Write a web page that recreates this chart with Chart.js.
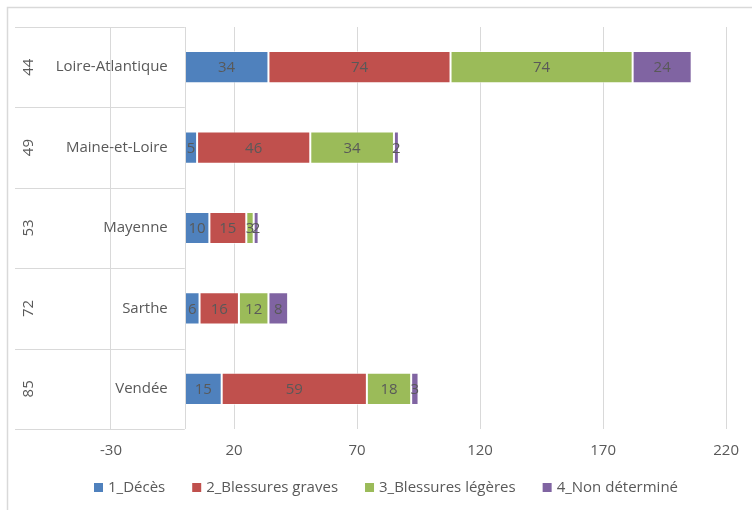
<!DOCTYPE html>
<html>
<head>
<meta charset="utf-8">
<script src="https://cdn.jsdelivr.net/npm/chart.js@4/dist/chart.umd.min.js"></script>
<style>
  html, body { margin: 0; padding: 0; background: #fff; }
  #wrap { width: 752px; height: 510px; position: relative; }
</style>
</head>
<body>
<div id="wrap"><canvas id="graphique" width="752" height="510"></canvas></div>
<script>
// données
const codes = ['44', '49', '53', '72', '85'];
const departements = ['Loire-Atlantique', 'Maine-et-Loire', 'Mayenne', 'Sarthe', 'Vendée'];
const seriesNames = ['1_Décès', '2_Blessures graves', '3_Blessures légères', '4_Non déterminé'];
const deces = [34, 5, 10, 6, 15];
const blessuresGraves = [74, 46, 15, 16, 59];
const blessuresLegeres = [74, 34, 3, 12, 18];
const nonDetermine = [24, 2, 2, 8, 3];
const tickValues = [-30, 20, 70, 120, 170, 220];

const couleurs = ['#4F81BD', '#C0504D', '#9BBB59', '#8064A2'];
const gris = '#595959';
const grille = '#D9D9D9';
const police = '"Open Sans", sans-serif';
const taille = 15;

const valeurs = [deces, blessuresGraves, blessuresLegeres, nonDetermine];

// cadre, étiquettes de catégories à deux niveaux, valeurs et légende
const categoriesPlugin = {
    id: 'categories',
    beforeDraw(chart) {
        const ctx = chart.ctx;
        ctx.save();
        ctx.strokeStyle = grille;
        ctx.lineWidth = 1.5;
        ctx.strokeRect(7.5, 7.5, 800, 520);
        ctx.restore();
    },
    afterDraw(chart) {
        const ctx = chart.ctx;
        const area = chart.chartArea;
        const x0 = chart.scales.x.getPixelForValue(0);
        const yScale = chart.scales.y;
        const pas = (area.bottom - area.top) / codes.length;
        ctx.save();
        ctx.strokeStyle = grille;
        ctx.lineWidth = 1;
        for (let i = 0; i <= codes.length; i++) {
            const y = Math.round(area.top + i * pas) + 0.5;
            ctx.beginPath();
            ctx.moveTo(area.left, y);
            ctx.lineTo(x0, y);
            ctx.stroke();
        }
        ctx.beginPath();
        ctx.moveTo(Math.round(x0) + 0.5, area.top);
        ctx.lineTo(Math.round(x0) + 0.5, area.bottom);
        ctx.stroke();

        ctx.fillStyle = gris;
        ctx.font = taille + 'px ' + police;
        ctx.textBaseline = 'middle';
        codes.forEach((c, i) => {
            const y = yScale.getPixelForValue(i);
            ctx.save();
            ctx.translate(29, y);
            ctx.rotate(-Math.PI / 2);
            ctx.textAlign = 'center';
            ctx.fillText(c, 0, 0);
            ctx.restore();
            ctx.textAlign = 'right';
            ctx.fillText(departements[i], x0 - 17, y);
        });

        // légende
        const boite = 9, ecart = 5, espace = 27;
        const largeurs = seriesNames.map(n => ctx.measureText(n).width);
        const total = largeurs.reduce((a, w) => a + boite + ecart + w, 0) + espace * (seriesNames.length - 1);
        let x = Math.round(386 - total / 2);
        const yl = 488;
        ctx.textAlign = 'left';
        seriesNames.forEach((n, k) => {
            ctx.fillStyle = couleurs[k];
            ctx.fillRect(x, yl - 5, boite, boite);
            ctx.fillStyle = gris;
            ctx.fillText(n, x + boite + ecart, yl);
            x += boite + ecart + largeurs[k] + espace;
        });
        ctx.restore();
    },
    afterDatasetsDraw(chart) {
        const ctx = chart.ctx;
        ctx.save();
        ctx.fillStyle = gris;
        ctx.font = taille + 'px ' + police;
        ctx.textAlign = 'center';
        ctx.textBaseline = 'middle';
        chart.data.datasets.forEach((ds, d) => {
            chart.getDatasetMeta(d).data.forEach((bar, i) => {
                const p = bar.getProps(['x', 'y', 'base'], true);
                ctx.fillText(String(ds.data[i]), (p.x + p.base) / 2, p.y + 1);
            });
        });
        ctx.restore();
    }
};

const ctx = document.getElementById('graphique').getContext('2d');
window.chart = new Chart(ctx, {
    type: 'bar',
    data: {
        labels: departements,
        datasets: seriesNames.map((nom, k) => ({
            label: nom,
            data: valeurs[k],
            backgroundColor: couleurs[k],
            borderColor: 'rgba(255,255,255,0.55)',
            borderWidth: 1,
            borderSkipped: false,
            barPercentage: 0.8,
            categoryPercentage: 0.5
        }))
    },
    options: {
        indexAxis: 'y',
        responsive: false,
        animation: false,
        layout: { padding: { left: 15, right: 25, top: 27, bottom: 37 } },
        scales: {
            x: {
                stacked: true,
                min: -69,
                max: 220,
                afterBuildTicks(scale) {
                    scale.ticks = tickValues.map(v => ({ value: v }));
                },
                grid: { color: grille, lineWidth: 1, drawTicks: false },
                border: { display: false },
                ticks: {
                    color: gris,
                    font: { family: police, size: taille },
                    padding: 13,
                    maxRotation: 0
                }
            },
            y: {
                stacked: true,
                display: false
            }
        },
        plugins: {
            legend: { display: false },
            tooltip: { enabled: false }
        }
    },
    plugins: [categoriesPlugin]
});
</script>
</body>
</html>
